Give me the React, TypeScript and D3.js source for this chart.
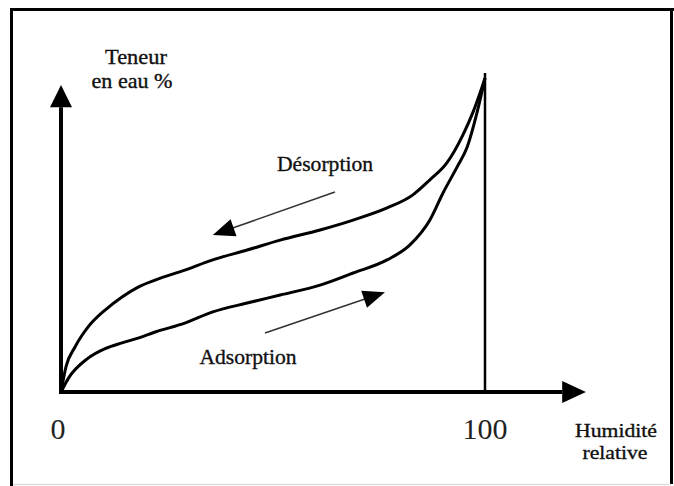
import React from "react";
import * as d3 from "d3";

// Humidité relative (%) sampled along each curve
const desorptionX = [0, 1.2, 3.3, 6.4, 10.4, 14.4, 18.2, 22.2, 29.2, 35.8, 43.9, 51.7, 61.1, 68.9, 76.9, 83.0, 87.0, 91.0, 94.8, 97.2, 100];
// Teneur en eau (arbitrary units) — desorption (upper curve)
const desorptionY = [0, 8.0, 14.1, 20.4, 25.7, 29.8, 32.9, 35.1, 38.2, 41.4, 44.5, 47.6, 50.8, 53.9, 57.7, 61.8, 66.5, 71.8, 80.6, 87.8, 98.4];

const adsorptionX = [0, 1.7, 6.4, 10.4, 14.4, 18.2, 22.2, 29.2, 35.8, 43.9, 51.7, 61.1, 68.9, 76.9, 82.3, 87.0, 90.1, 93.4, 95.8, 98.1, 100];
const adsorptionY = [0, 4.2, 10.6, 13.6, 15.4, 16.9, 18.8, 21.6, 25.1, 27.9, 30.4, 33.5, 37.3, 41.4, 46.1, 53.9, 62.4, 70.5, 76.8, 87.5, 98.4];

const tickLabels = ["0", "100"];
const tickValues = [0, 100];

// direction arrows [fromX, fromY, toX, toY] in data units
const desorptionArrow = [64.6, 62.7, 35.8, 49.2];
const adsorptionArrow = [48.1, 18.5, 76.4, 31.3];

const W = 674;
const H = 486;

function arrowHead(x1: number, y1: number, x2: number, y2: number, len: number, half: number) {
  const dx = x2 - x1, dy = y2 - y1;
  const L = Math.hypot(dx, dy);
  const ux = dx / L, uy = dy / L;
  const bx = x2 - ux * len, by = y2 - uy * len;
  const px = -uy, py = ux;
  return `M${x2},${y2}L${bx + px * half},${by + py * half}L${bx - px * half},${by - py * half}Z`;
}

const serif: React.CSSProperties = { fontFamily: "Liberation Serif", fill: "#111", stroke: "#111", strokeWidth: 0.35 };

export default function App() {
  const xs = d3.scaleLinear().domain([0, 100]).range([61, 485]);
  const ys = d3.scaleLinear().domain([0, 100]).range([392, 73]);

  const line = d3
    .line<[number, number]>()
    .x((d) => xs(d[0]))
    .y((d) => ys(d[1]))
    .curve(d3.curveMonotoneX);

  const desPts: [number, number][] = desorptionX.map((x, i) => [x, desorptionY[i]]);
  const adsPts: [number, number][] = adsorptionX.map((x, i) => [x, adsorptionY[i]]);

  const x0 = xs(0), y0 = ys(0);
  const xAxisEnd = xs(118.2), xAxisTip = xs(123.8);
  const yAxisEnd = ys(89.3), yAxisTip = ys(96.2);

  const arrowEl = (a: number[], key: string) => {
    const ax1 = xs(a[0]), ay1 = ys(a[1]), ax2 = xs(a[2]), ay2 = ys(a[3]);
    const dx = ax2 - ax1, dy = ay2 - ay1;
    const L = Math.hypot(dx, dy);
    const ex = ax2 - (dx / L) * 18, ey = ay2 - (dy / L) * 18;
    return (
      <g key={key}>
        <line x1={ax1} y1={ay1} x2={ex} y2={ey} stroke="#333" strokeWidth={1.6} />
        <path d={arrowHead(ax1, ay1, ax2, ay2, 22, 9)} fill="#000" />
      </g>
    );
  };

  return (
    <svg
      width={W}
      height={H}
      viewBox={`0 0 ${W} ${H}`}
      style={{ position: "absolute", left: 0, top: 0, background: "#fff" }}
    >
      <rect x={0} y={0} width={W} height={H} fill="#fff" />
      {/* frame */}
      <line x1={11.5} y1={8} x2={11.5} y2={H} stroke="#000" strokeWidth={3} />
      <line x1={10} y1={9.5} x2={W} y2={9.5} stroke="#000" strokeWidth={3} />
      <line x1={671.5} y1={8} x2={671.5} y2={484} stroke="#000" strokeWidth={3} />
      <line x1={13} y1={484.5} x2={671} y2={484.5} stroke="#ddd" strokeWidth={1.5} />

      {/* 100% vertical line */}
      <line x1={xs(100)} y1={ys(100)} x2={xs(100)} y2={y0} stroke="#000" strokeWidth={2.5} />

      {/* axes */}
      <line x1={x0} y1={y0 + 2} x2={x0} y2={yAxisEnd} stroke="#000" strokeWidth={4} />
      <path
        d={`M${x0},${yAxisTip}L${x0 - 11},${yAxisEnd}L${x0 + 11},${yAxisEnd}Z`}
        fill="#000"
      />
      <line x1={x0 - 2} y1={y0} x2={xAxisEnd} y2={y0} stroke="#000" strokeWidth={4} />
      <path
        d={`M${xAxisTip},${y0}L${xAxisEnd},${y0 - 11}L${xAxisEnd},${y0 + 11}Z`}
        fill="#000"
      />

      {/* curves */}
      <path d={line(desPts) || ""} fill="none" stroke="#000" strokeWidth={3} strokeLinejoin="round" />
      <path d={line(adsPts) || ""} fill="none" stroke="#000" strokeWidth={3} strokeLinejoin="round" />

      {arrowEl(desorptionArrow, "des")}
      {arrowEl(adsorptionArrow, "ads")}

      {/* labels */}
      <text x={136} y={64} fontSize={21} textAnchor="middle" textLength={62} lengthAdjust="spacingAndGlyphs" style={serif}>
        Teneur
      </text>
      <text x={132} y={88} fontSize={21} textAnchor="middle" textLength={81} lengthAdjust="spacingAndGlyphs" style={serif}>
        en eau %
      </text>
      <text x={325} y={171} fontSize={21} textAnchor="middle" textLength={96} lengthAdjust="spacingAndGlyphs" style={serif}>
        Désorption
      </text>
      <text x={248} y={364} fontSize={21} textAnchor="middle" textLength={97} lengthAdjust="spacingAndGlyphs" style={serif}>
        Adsorption
      </text>
      {tickValues.map((v, i) => (
        <text
          key={v}
          x={xs(v) - (v === 0 ? 3 : 0)}
          y={439}
          fontSize={30}
          textAnchor="middle"
          style={{ fontFamily: "Liberation Serif", fill: "#222" }}
        >
          {tickLabels[i]}
        </text>
      ))}
      <text x={616} y={437} fontSize={19} textAnchor="middle" textLength={82} lengthAdjust="spacingAndGlyphs" style={serif}>
        Humidité
      </text>
      <text x={615} y={459} fontSize={19} textAnchor="middle" textLength={65} lengthAdjust="spacingAndGlyphs" style={serif}>
        relative
      </text>
    </svg>
  );
}
